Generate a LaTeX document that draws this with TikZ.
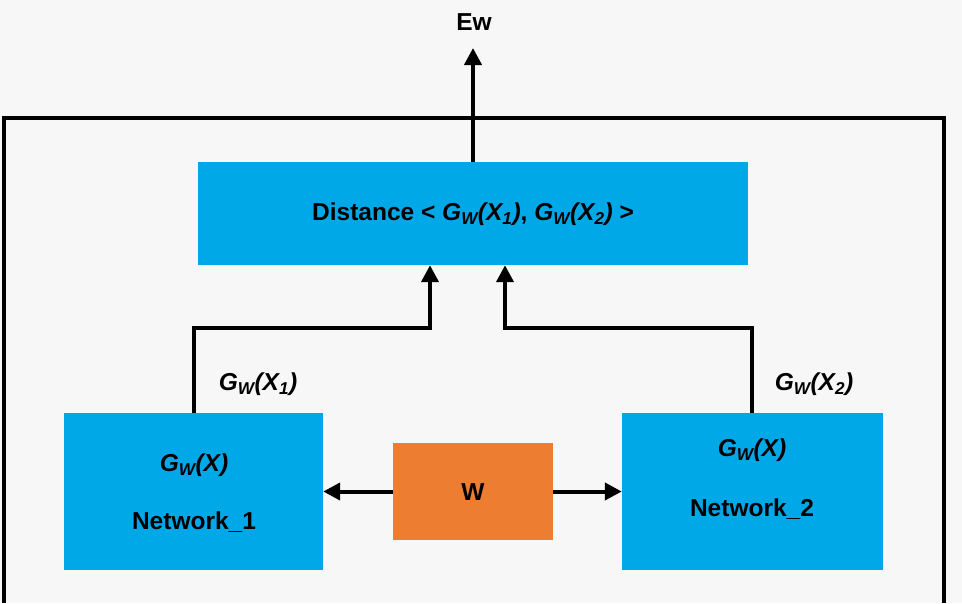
\documentclass[tikz,border=0pt]{standalone}
\usepackage{fontspec}
\setmainfont{Liberation Sans}
\usetikzlibrary{arrows.meta}
\definecolor{bg}{RGB}{247,247,247}
\definecolor{boxblue}{RGB}{0,168,232}
\definecolor{boxorange}{RGB}{237,125,49}
\newcommand\GwOf[1]{\textit{G\textsubscript{W}(#1)}}
\begin{document}
\begin{tikzpicture}[x=1pt,y=-1pt,
  lbl/.style={font=\fontsize{24.5}{28}\selectfont\bfseries, inner sep=0pt},
  bluebox/.style={fill=boxblue, draw=none, inner sep=0pt},
  orangebox/.style={fill=boxorange, draw=none, inner sep=0pt},
  conn/.style={line width=4pt},
  arr/.style={line width=4pt, -{Triangle[length=17pt,width=17pt]}}]
\fill[bg] (0,0) rectangle (962,603);
\useasboundingbox (0,0) rectangle (962,603);
% frame
\draw[line width=4pt] (4,603) -- (4,118) -- (944,118) -- (944,603);
% boxes
\node[bluebox, minimum width=550pt, minimum height=103pt] (dist) at (473,213.5) {};
\node[bluebox, minimum width=259pt, minimum height=157pt] (n1) at (193.5,491.5) {};
\node[bluebox, minimum width=261pt, minimum height=157pt] (n2) at (752.5,491.5) {};
\node[orangebox, minimum width=160pt, minimum height=97pt] (w) at (473,491.5) {};
% texts
\node[lbl] (disttxt) at (473,214) {Distance < \GwOf{X\textsubscript{1}}, \GwOf{X\textsubscript{2}} >};
\node[lbl] (g1) at (194,465) {\GwOf{X}};
\node[lbl] (net1) at (194,522) {Network\_1};
\node[lbl] (g2) at (752,450) {\GwOf{X}};
\node[lbl] (net2) at (752,509) {Network\_2};
\node[lbl] (wtxt) at (473,492) {W};
\node[lbl] (lx1) at (258,384) {\GwOf{X\textsubscript{1}}};
\node[lbl] (lx2) at (814,384) {\GwOf{X\textsubscript{2}}};
\node[lbl] (ew) at (474,22) {Ew};
\coordinate (ewend) at (473,48);
% connectors
\draw[arr] (dist.north) -- (ewend);
\draw[arr] ([xshift=0.5pt]n1.north) -- ++(0,-85) -| ([xshift=-43pt]dist.south);
\draw[arr] ([xshift=-0.5pt]n2.north) -- ++(0,-85) -| ([xshift=32pt]dist.south);
\draw[arr] (w.west) -- (n1.east);
\draw[arr] (w.east) -- (n2.west);
\end{tikzpicture}
\end{document}
